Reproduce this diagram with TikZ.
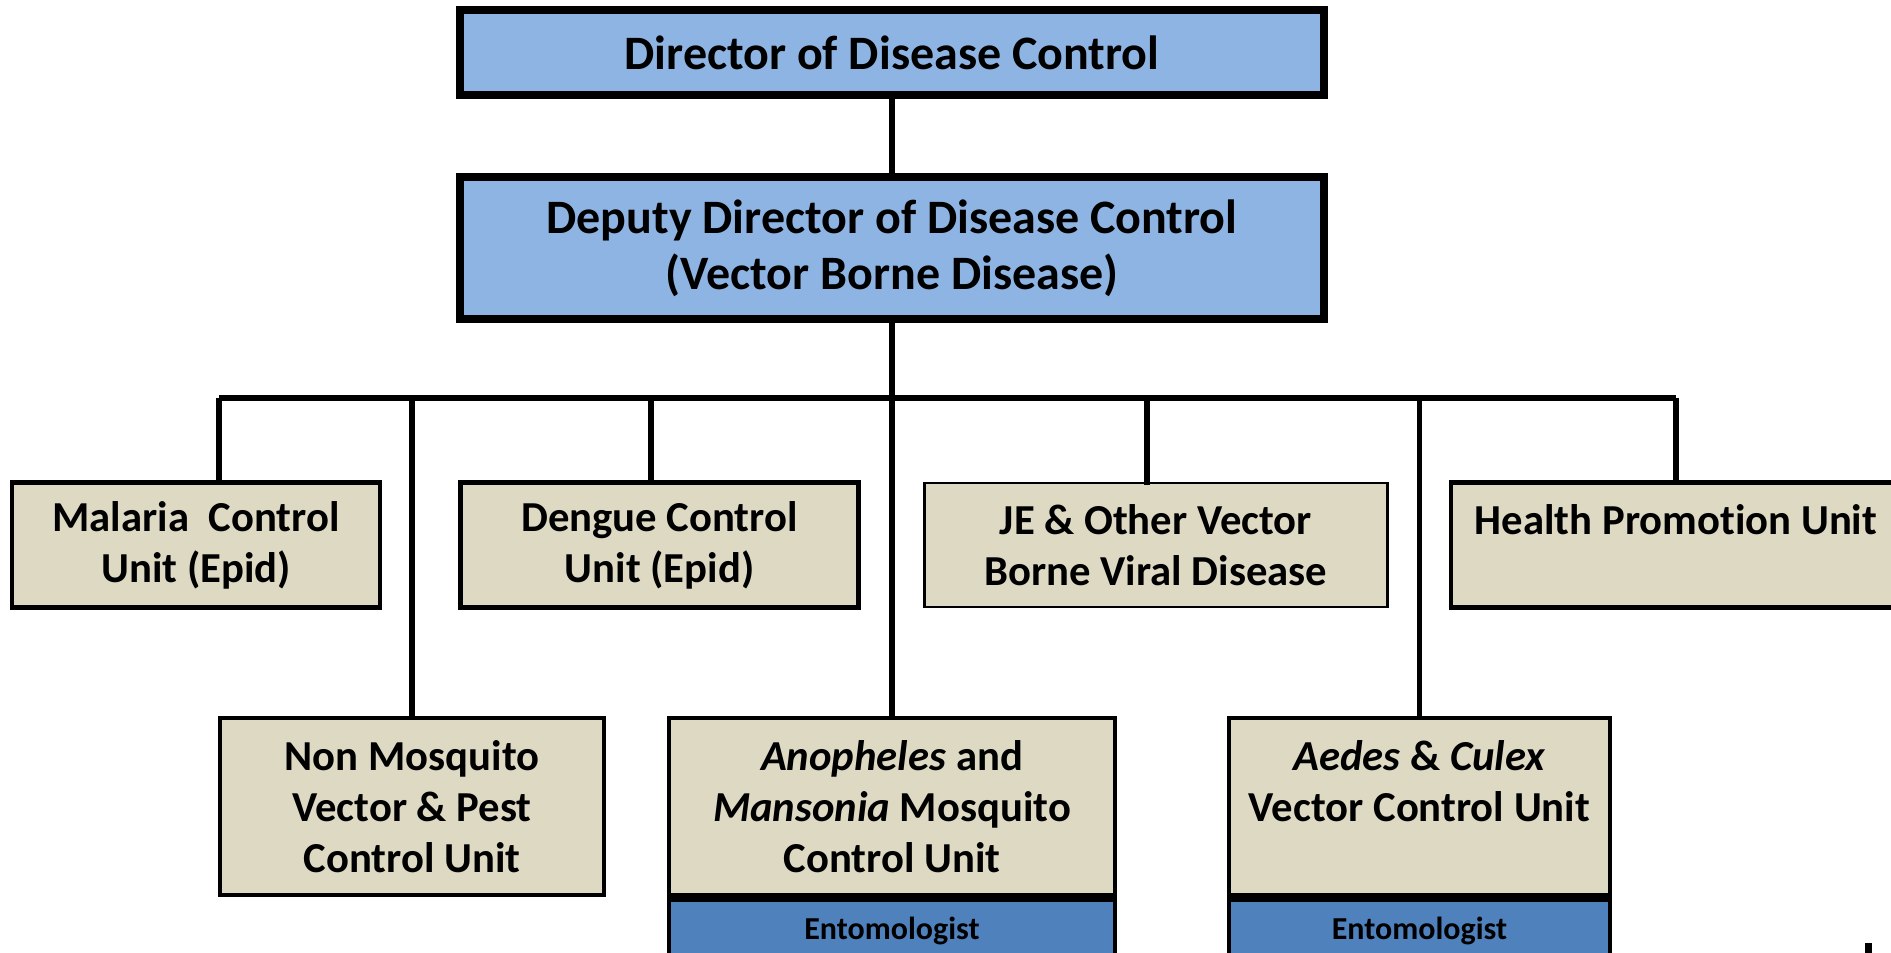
\documentclass[tikz,border=0pt]{standalone}
\usepackage{fontspec}
\setmainfont{Carlito}[Ligatures=NoCommon]
\definecolor{topblue}{HTML}{8EB4E3}
\definecolor{unittan}{HTML}{DDD9C3}
\definecolor{entoblue}{HTML}{4F81BD}
\tikzset{
  topbox/.style={draw=black, line width=8pt, fill=topblue, minimum width=864pt, inner sep=0pt, align=center, font=\fontsize{48}{56}\selectfont\bfseries},
  unitbox/.style={draw=black, line width=4.5pt, fill=unittan, inner sep=0pt, align=center, font=\fontsize{42.7}{51}\selectfont\bfseries},
  entobox/.style={draw=black, line width=4.5pt, fill=entoblue, inner sep=0pt, align=center, font=\fontsize{32}{38}\selectfont\bfseries},
  link/.style={draw=black, line width=5.5pt}
}
\begin{document}
\begin{tikzpicture}[x=1pt, y=-1pt]
\useasboundingbox (0,0) rectangle (1891,953);
\clip (0,0) rectangle (1891,953);
% top boxes
\node[topbox, minimum height=85pt] (dir) at (892,52.5) {Director of Disease Control};
\node[topbox, minimum height=142pt] (dep) at (892,248) {Deputy Director of Disease Control\\(Vector Borne Disease)};
% bus coordinates
\coordinate (bmid) at (892,398);
\coordinate (bl) at (219,398);
\coordinate (br) at (1676,398);
% first row
\node[unitbox, minimum width=368pt, minimum height=125pt] (mal) at (196,545) {Malaria\ \ Control\\Unit (Epid)};
\node[unitbox, minimum width=398pt, minimum height=125pt] (den) at (659.5,545) {Dengue Control\\Unit (Epid)};
\node[unitbox, line width=2.5pt, minimum width=463pt, minimum height=124pt] (je) at (1156,545) {JE \& Other Vector\\Borne Viral Disease};
\node[unitbox, minimum width=450pt, minimum height=125pt] (hp) at (1676,545) {Health Promotion Unit\\~};
% second row
\node[unitbox, minimum width=384pt, minimum height=177pt] (nm) at (412,806.5) {Non Mosquito\\Vector \& Pest\\Control Unit};
\node[unitbox, minimum width=446pt, minimum height=177pt] (an) at (892,806.5) {\textit{Anopheles} and\\\textit{Mansonia} Mosquito\\Control Unit};
\node[unitbox, minimum width=381pt, minimum height=177pt] (ae) at (1419.5,806.5) {\textit{Aedes} \& \textit{Culex}\\Vector Control Unit\\~};
\node[entobox, minimum width=446pt, minimum height=62pt, anchor=north] (anE) at (an.south) {Entomologist};
\node[entobox, minimum width=381pt, minimum height=62pt, anchor=north] (aeE) at (ae.south) {Entomologist};
% connectors
\draw[link] (dir.south) -- (dep.north);
\draw[link] (dep.south) -- (bmid);
\draw[link] (bl) -- (br);
\draw[link] (bl) -- (bl |- mal.north);
\draw[link] (651,398) coordinate (bden) -- (bden |- den.north);
\draw[link] (1147,398) coordinate (bje) -- ([yshift=-3pt]bje |- je.north);
\draw[link] (br) -- (br |- hp.north);
\draw[link] (412,398) coordinate (bnm) -- (bnm |- nm.north);
\draw[link] (bmid) -- (an.north);
\draw[link] (1419.5,398) coordinate (bae) -- (bae |- ae.north);
% small mark at bottom right
\fill[black] (1865,943) rectangle (1872,953);
\end{tikzpicture}
\end{document}
